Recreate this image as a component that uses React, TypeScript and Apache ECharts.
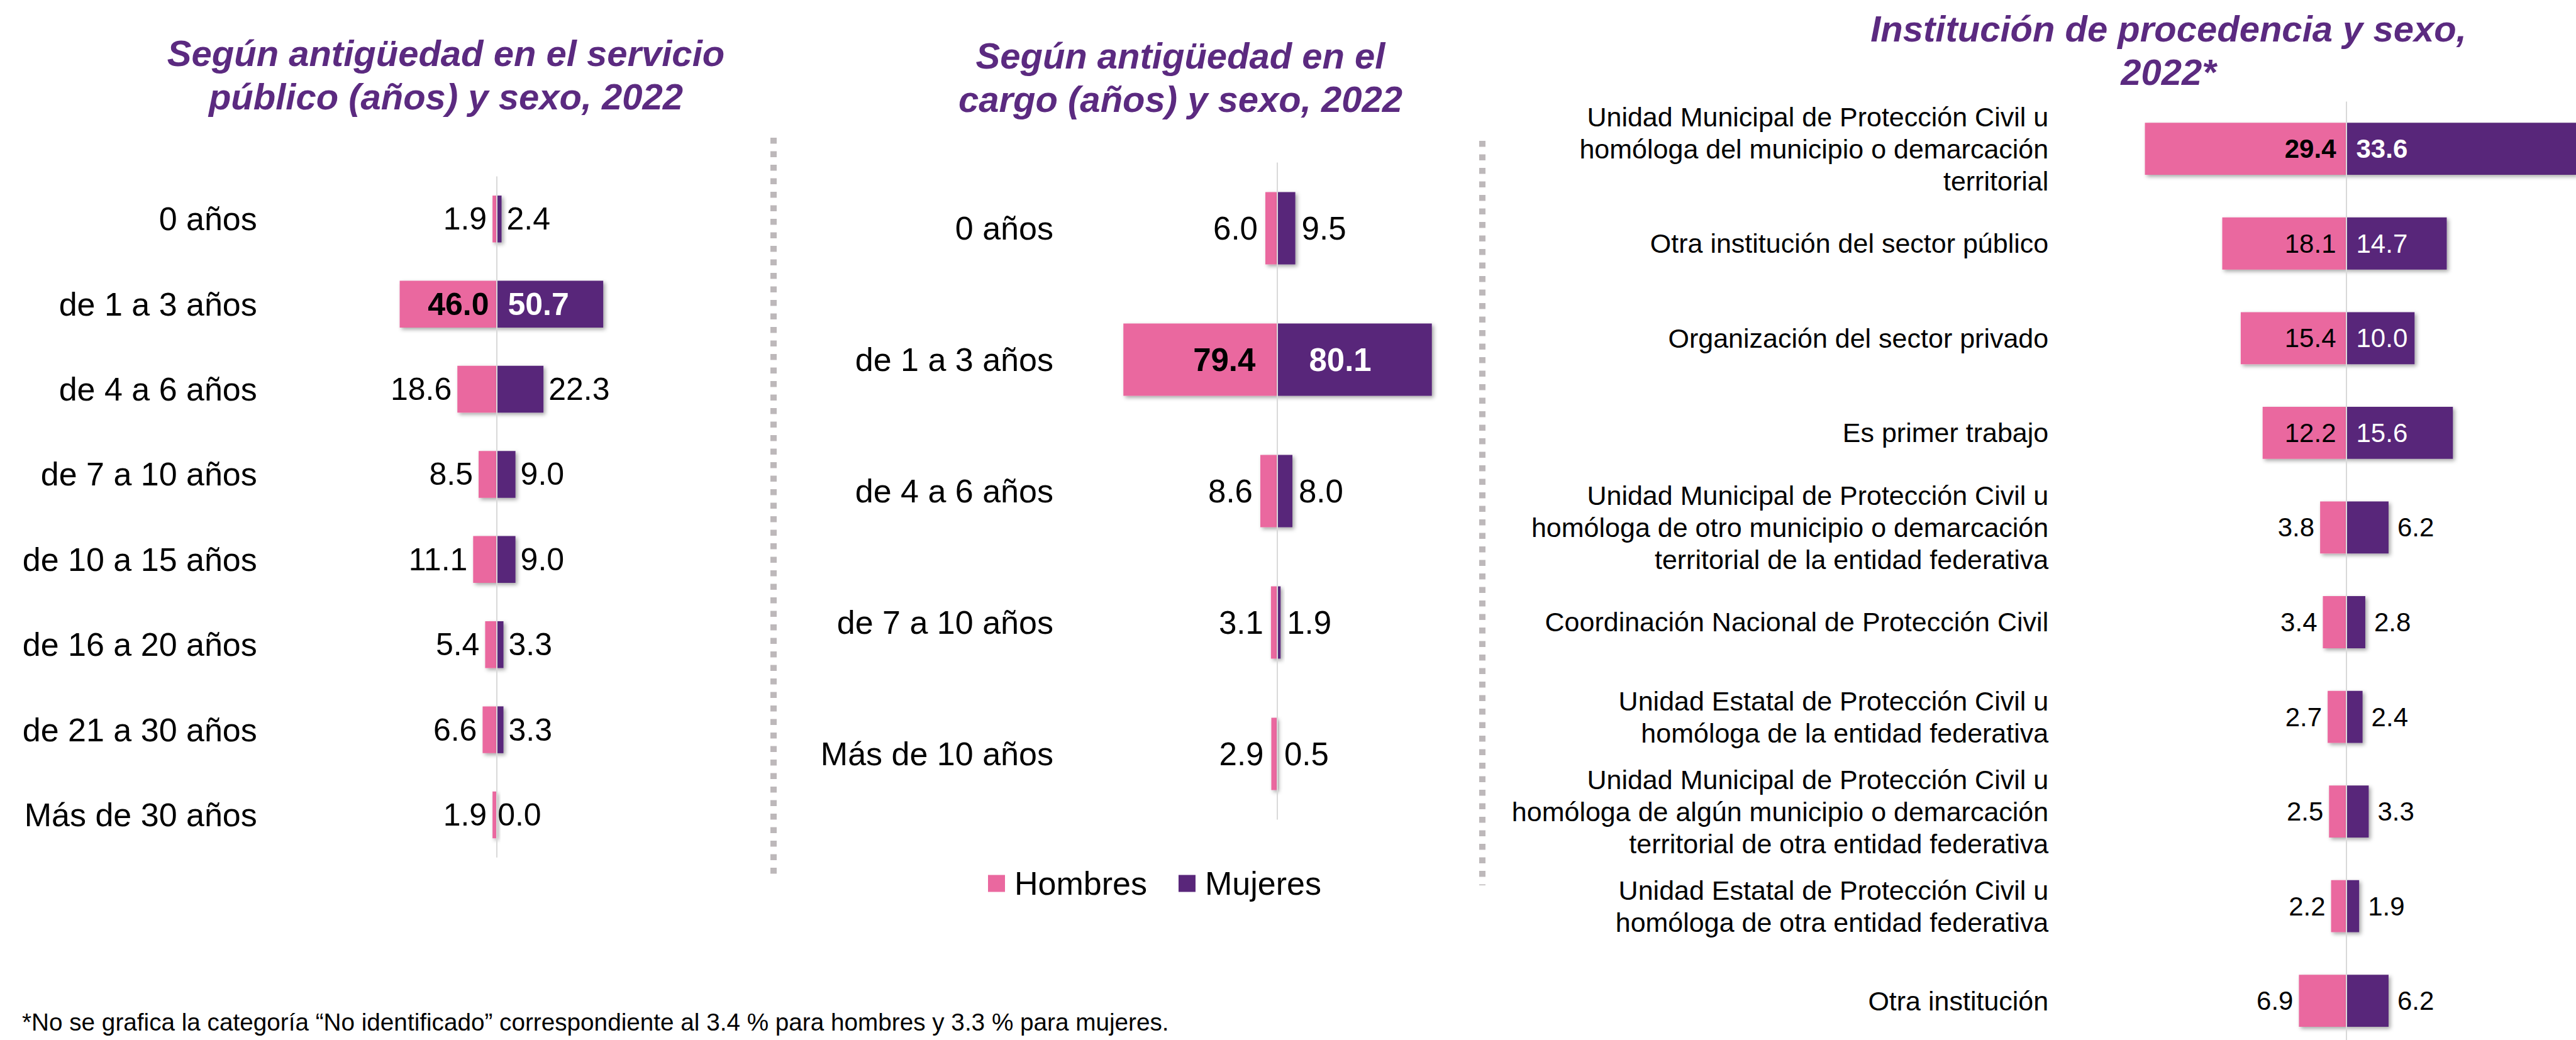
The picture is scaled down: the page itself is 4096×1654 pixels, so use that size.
import React, { useEffect, useRef } from "react";
import * as echarts from "echarts";

const FONT = "'Liberation Sans', Arial, Helvetica, sans-serif";
const PINK = "#EA689F";
const PURPLE = "#59267A";
const TITLE_COLOR = "#5B2A80";
const SEP_COLOR = "#BDB8BA";

const seriesNames = ["Hombres", "Mujeres"];

const servicioTitle = "Según antigüedad en el servicio\npúblico (años) y sexo, 2022";
const servicioCategories = [
  "0 años",
  "de 1 a 3 años",
  "de 4 a 6 años",
  "de 7 a 10 años",
  "de 10 a 15 años",
  "de 16 a 20 años",
  "de 21 a 30 años",
  "Más de 30 años",
];
const servicioHombres = [1.9, 46.0, 18.6, 8.5, 11.1, 5.4, 6.6, 1.9];
const servicioMujeres = [2.4, 50.7, 22.3, 9.0, 9.0, 3.3, 3.3, 0.0];

const cargoTitle = "Según antigüedad en el\ncargo (años) y sexo, 2022";
const cargoCategories = ["0 años", "de 1 a 3 años", "de 4 a 6 años", "de 7 a 10 años", "Más de 10 años"];
const cargoHombres = [6.0, 79.4, 8.6, 3.1, 2.9];
const cargoMujeres = [9.5, 80.1, 8.0, 1.9, 0.5];

const institucionTitle = "Institución de procedencia y sexo,\n2022*";
const institucionCategories = [
  "Unidad Municipal de Protección Civil u\nhomóloga del municipio o demarcación\nterritorial",
  "Otra institución del sector público",
  "Organización del sector privado",
  "Es primer trabajo",
  "Unidad Municipal de Protección Civil u\nhomóloga de otro municipio o demarcación\nterritorial de la entidad federativa",
  "Coordinación Nacional de Protección Civil",
  "Unidad Estatal de Protección Civil u\nhomóloga de la entidad federativa",
  "Unidad Municipal de Protección Civil u\nhomóloga de algún municipio o demarcación\nterritorial de otra entidad federativa",
  "Unidad Estatal de Protección Civil u\nhomóloga de otra entidad federativa",
  "Otra institución",
];
const institucionHombres = [29.4, 18.1, 15.4, 12.2, 3.8, 3.4, 2.7, 2.5, 2.2, 6.9];
const institucionMujeres = [33.6, 14.7, 10.0, 15.6, 6.2, 2.8, 2.4, 3.3, 1.9, 6.2];

const footnote =
  "*No se grafica la categoría \u201CNo identificado\u201D correspondiente al 3.4 % para hombres y 3.3 % para mujeres.";

// layout (not data)
const panels = [
  {
    cats: servicioCategories, h: servicioHombres, m: servicioMujeres,
    grid: { left: 454.8, width: 669.4, top: 280.6, height: 1083.1 }, range: 100,
    catFont: 52, catLine: 60, catMargin: 46, valFont: 50, insideMin: 30,
    outH: 9, outM: 8, inH: 12, inM: 18,
  },
  {
    cats: cargoCategories, h: cargoHombres, m: cargoMujeres,
    grid: { left: 1722.9, width: 615, top: 258.5, height: 1045 }, range: 100,
    catFont: 52, catLine: 60, catMargin: 48, valFont: 51, insideMin: 30,
    outH: 12, outM: 10, inH: 34, inM: 51,
  },
  {
    cats: institucionCategories, h: institucionHombres, m: institucionMujeres,
    grid: { left: 3295.2, width: 870.6, top: 161.4, height: 1505.6 }, range: 40,
    catFont: 43, catLine: 51, catMargin: 38, valFont: 42, insideMin: 10,
    outH: 9, outM: 14, inH: 16, inM: 16,
  },
];

const titleBlocks = [
  { text: servicioTitle, x: 709, y: 119 },
  { text: cargoTitle, x: 1877, y: 123 },
  { text: institucionTitle, x: 3448, y: 80 },
];

function buildOption() {
  const grid: any[] = [];
  const xAxis: any[] = [];
  const yAxis: any[] = [];
  const series: any[] = [];

  panels.forEach((p, gi) => {
    grid.push({ ...p.grid, containLabel: false, outerBoundsMode: "none" });
    xAxis.push({ type: "value", gridIndex: gi, min: -p.range, max: p.range, show: false });
    yAxis.push({
      type: "category",
      gridIndex: gi,
      data: p.cats,
      inverse: true,
      axisLine: { show: false },
      axisTick: { show: false },
      splitLine: { show: false },
      axisLabel: {
        margin: p.catMargin,
        fontSize: p.catFont,
        lineHeight: p.catLine,
        fontFamily: FONT,
        color: "#000",
        align: "right",
      },
    });
    const maxH = Math.max(...p.h);
    const boldIdx = p.h.indexOf(maxH);
    const mkLabel = (v: number, isH: boolean, i: number) => {
      const inside = v >= p.insideMin;
      return {
        position: isH ? (inside ? "insideRight" : "left") : inside ? "insideLeft" : "right",
        distance: inside ? (isH ? p.inH : p.inM) : isH ? p.outH : p.outM,
        color: inside && !isH ? "#fff" : "#000",
        fontWeight: i === boldIdx ? "bold" : "normal",
      };
    };
    const baseLabel = {
      show: true,
      fontSize: p.valFont,
      fontFamily: FONT,
      formatter: (prm: any) => Math.abs(prm.value).toFixed(1),
    };
    const shadow = {
      shadowColor: "rgba(0,0,0,0.35)",
      shadowBlur: 6,
      shadowOffsetX: 3,
      shadowOffsetY: 3,
    };
    series.push({
      name: seriesNames[0],
      type: "bar",
      xAxisIndex: gi,
      yAxisIndex: gi,
      stack: "p" + gi,
      barWidth: "55%",
      itemStyle: { color: PINK, ...shadow },
      label: baseLabel,
      data: p.h.map((v, i) => ({ value: -v, label: mkLabel(v, true, i) })),
      markLine: {
        silent: true,
        symbol: "none",
        label: { show: false },
        lineStyle: { color: "#D9D9D9", width: 2, type: "solid" },
        data: [{ xAxis: 0 }],
      },
    });
    series.push({
      name: seriesNames[1],
      type: "bar",
      xAxisIndex: gi,
      yAxisIndex: gi,
      stack: "p" + gi,
      barWidth: "55%",
      itemStyle: { color: PURPLE, ...shadow },
      label: baseLabel,
      data: p.m.map((v, i) => ({ value: v, label: mkLabel(v, false, i) })),
    });
  });

  const graphic: any[] = [];
  titleBlocks.forEach((t) => {
    graphic.push({
      type: "text",
      x: t.x,
      y: t.y,
      style: {
        text: t.text,
        fill: TITLE_COLOR,
        fontSize: 58,
        fontWeight: "bold",
        fontStyle: "italic",
        fontFamily: FONT,
        lineHeight: 69,
        textAlign: "center",
        textVerticalAlign: "middle",
      },
    });
  });
  graphic.push({
    type: "line",
    shape: { x1: 1230, y1: 219, x2: 1230, y2: 1401 },
    style: { stroke: SEP_COLOR, lineWidth: 10, lineDash: [9.5, 12] },
  });
  graphic.push({
    type: "line",
    shape: { x1: 2357, y1: 224, x2: 2357, y2: 1408 },
    style: { stroke: SEP_COLOR, lineWidth: 10, lineDash: [9.5, 12] },
  });
  graphic.push({
    type: "text",
    x: 35,
    y: 1625,
    style: {
      text: footnote,
      fill: "#000",
      fontSize: 38.7,
      fontFamily: FONT,
      textAlign: "left",
      textVerticalAlign: "middle",
    },
  });

  return {
    animation: false,
    backgroundColor: "#fff",
    grid,
    xAxis,
    yAxis,
    series,
    graphic,
    legend: {
      data: seriesNames,
      left: 1566,
      top: 1374,
      itemWidth: 27,
      itemHeight: 27,
      itemGap: 50,
      icon: "rect",
      textStyle: { fontSize: 52, fontFamily: FONT, color: "#000", padding: [0, 0, 0, 10] },
    },
  };
}

export default function App() {
  const ref = useRef<HTMLDivElement>(null);
  useEffect(() => {
    if (!ref.current) return;
    const chart = echarts.init(ref.current, null, { renderer: "svg" });
    chart.setOption(buildOption() as any);
    return () => chart.dispose();
  }, []);
  return (
    <div
      ref={ref}
      style={{ position: "fixed", left: 0, top: 0, width: 4096, height: 1654, background: "#fff" }}
    />
  );
}
